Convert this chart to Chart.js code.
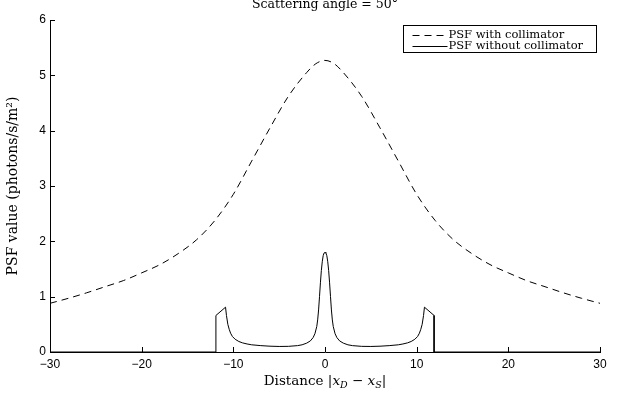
<!DOCTYPE html>
<html>
<head>
<meta charset="utf-8">
<script src="https://cdn.jsdelivr.net/npm/chart.js@4"></script>
<style>
  html, body { margin: 0; padding: 0; background: #fff; }
  #wrap { width: 630px; height: 396px; }
</style>
</head>
<body>
<div id="wrap"><canvas id="psf-chart" width="630" height="396"></canvas></div>
<script>
// data
const chartTitle = 'Scattering angle = 50°';
const seriesNames = ['PSF with collimator', 'PSF without collimator'];

const collimX = [-30, -28, -26, -24, -22, -20, -18, -16, -14, -12, -10, -8, -6, -4, -2, -1, 0,
                 1, 2, 4, 6, 8, 10, 12, 14, 16, 18, 20, 22, 24, 26, 28, 30];
const collimY = [0.88, 0.97, 1.07, 1.18, 1.29, 1.43, 1.58, 1.78, 2.03, 2.38, 2.85, 3.45, 4.05, 4.62, 5.05, 5.21, 5.27,
                 5.21, 5.05, 4.62, 4.05, 3.45, 2.85, 2.38, 2.03, 1.78, 1.58, 1.43, 1.29, 1.18, 1.07, 0.97, 0.88];

const noCollimX = [-30, -11.9, -11.9, -10.85, -10.75, -10.6, -10.45, -10.3, -10.1, -9.8, -9.4, -9, -8.5, -8, -7, -6, -5, -4, -3, -2.5, -2, -1.6,
                   -1.3, -1.1, -0.9, -0.8, -0.7, -0.6, -0.5, -0.4, -0.3, -0.2, -0.1, 0,
                   0.1, 0.2, 0.3, 0.4, 0.5, 0.6, 0.7, 0.8, 0.9, 1.1, 1.3,
                   1.6, 2, 2.5, 3, 4, 5, 6, 7, 8, 8.5, 9, 9.4, 9.8, 10.1, 10.3, 10.45, 10.6, 10.75, 10.85, 11.9, 11.9, 30];
const noCollimY = [0, 0, 0.66, 0.81, 0.66, 0.5, 0.41, 0.34, 0.28, 0.23, 0.19, 0.165, 0.145, 0.13, 0.115, 0.105, 0.1, 0.102, 0.115, 0.13, 0.16, 0.2,
                   0.26, 0.33, 0.46, 0.58, 0.76, 1.0, 1.25, 1.47, 1.63, 1.74, 1.79, 1.8,
                   1.79, 1.74, 1.63, 1.47, 1.25, 1.0, 0.76, 0.58, 0.46, 0.33, 0.26,
                   0.2, 0.16, 0.13, 0.115, 0.102, 0.1, 0.105, 0.115, 0.13, 0.145, 0.165, 0.19, 0.23, 0.28, 0.34, 0.41, 0.5, 0.66, 0.81, 0.66, 0, 0];

const xTicks = [-30, -20, -10, 0, 10, 20, 30];
const yTicks = [0, 1, 2, 3, 4, 5, 6];

const serif = '"DejaVu Serif", "Liberation Serif", serif';
const sans = '"Liberation Sans", Arial, sans-serif';

const toPoints = (xs, ys) => xs.map((x, i) => ({ x: x, y: ys[i] }));

// title, rich x label, inward ticks and boxed legend
const extras = {
  id: 'extras',
  afterDraw(chart) {
    const ctx = chart.ctx;
    const xs = chart.scales.x, ys = chart.scales.y;
    const area = chart.chartArea;
    ctx.save();
    ctx.fillStyle = '#000';
    ctx.strokeStyle = '#000';
    ctx.lineWidth = 1;

    // title (cut by the top edge, as in the figure)
    ctx.font = '12.5px ' + serif;
    ctx.textAlign = 'center';
    ctx.textBaseline = 'alphabetic';
    ctx.fillText(chartTitle, 325, 8);

    // inward ticks
    ctx.beginPath();
    xTicks.forEach(v => {
      const px = Math.round(xs.getPixelForValue(v)) + 0.5;
      ctx.moveTo(px, area.bottom);
      ctx.lineTo(px, area.bottom - 5);
    });
    yTicks.forEach(v => {
      const py = Math.round(ys.getPixelForValue(v)) + 0.5;
      ctx.moveTo(area.left, py);
      ctx.lineTo(area.left + 5, py);
    });
    ctx.stroke();

    // x axis title: Distance |x_D - x_S|
    const parts = [
      { t: 'Distance |', f: '13.5px ' + serif, dy: 0 },
      { t: 'x', f: 'italic 13.5px ' + serif, dy: 0 },
      { t: 'D', f: 'italic 9.5px ' + serif, dy: 3 },
      { t: ' \u2212 ', f: '13.5px ' + serif, dy: 0 },
      { t: 'x', f: 'italic 13.5px ' + serif, dy: 0 },
      { t: 'S', f: 'italic 9.5px ' + serif, dy: 3 },
      { t: '|', f: '13.5px ' + serif, dy: 0 }
    ];
    let total = 0;
    parts.forEach(p => { ctx.font = p.f; p.w = ctx.measureText(p.t).width; total += p.w; });
    let cx = (area.left + area.right) / 2 - total / 2;
    ctx.textAlign = 'left';
    parts.forEach(p => {
      ctx.font = p.f;
      ctx.fillText(p.t, cx, 385 + p.dy);
      cx += p.w;
    });

    // legend box
    const bx = 403.5, by = 25.5, bw = 193, bh = 27;
    ctx.fillStyle = '#fff';
    ctx.fillRect(bx, by, bw, bh);
    ctx.strokeRect(bx, by, bw, bh);
    ctx.fillStyle = '#000';
    ctx.font = '11.5px ' + serif;
    ctx.textBaseline = 'middle';
    chart.data.datasets.forEach((ds, i) => {
      const ly = by + 9 + i * 11;
      ctx.setLineDash(ds.borderDash || []);
      ctx.beginPath();
      ctx.moveTo(bx + 9, Math.round(ly) + 0.5);
      ctx.lineTo(bx + 44, Math.round(ly) + 0.5);
      ctx.stroke();
      ctx.setLineDash([]);
      ctx.fillText(ds.label, bx + 45, ly + 0.5);
    });
    ctx.restore();
  }
};

const ctx = document.getElementById('psf-chart').getContext('2d');
new Chart(ctx, {
  type: 'line',
  data: {
    datasets: [
      {
        label: seriesNames[0],
        data: toPoints(collimX, collimY),
        borderColor: '#000',
        borderWidth: 1,
        borderDash: [7, 5],
        pointRadius: 0,
        cubicInterpolationMode: 'monotone',
        fill: false
      },
      {
        label: seriesNames[1],
        data: toPoints(noCollimX, noCollimY),
        borderColor: '#000',
        borderWidth: 1,
        pointRadius: 0,
        tension: 0,
        fill: false
      }
    ]
  },
  options: {
    responsive: false,
    animation: false,
    layout: { padding: { top: 20, right: 30, left: 0, bottom: 0 } },
    plugins: {
      legend: { display: false },
      title: { display: false },
      tooltip: { enabled: false }
    },
    scales: {
      x: {
        type: 'linear',
        min: -30,
        max: 30,
        afterFit: s => { s.height = 44; },
        afterBuildTicks: s => { s.ticks = xTicks.map(v => ({ value: v })); },
        grid: { display: false, drawTicks: false },
        border: { display: true, color: '#000', width: 1 },
        ticks: {
          color: '#000',
          font: { family: sans, size: 12 },
          padding: 5,
          maxRotation: 0,
          callback: v => (v < 0 ? '\u2212' + Math.abs(v) : String(v))
        }
      },
      y: {
        type: 'linear',
        min: 0,
        max: 6,
        afterFit: s => { s.width = 50; },
        afterBuildTicks: s => { s.ticks = yTicks.map(v => ({ value: v })); },
        grid: { display: false, drawTicks: false },
        border: { display: true, color: '#000', width: 1 },
        title: {
          display: true,
          text: 'PSF value (photons/s/m\u00B2)',
          color: '#000',
          font: { family: serif, size: 14 },
          padding: { top: 5, bottom: 0 }
        },
        ticks: {
          color: '#000',
          font: { family: sans, size: 12 },
          padding: 4
        }
      }
    }
  },
  plugins: [extras]
});
</script>
</body>
</html>
